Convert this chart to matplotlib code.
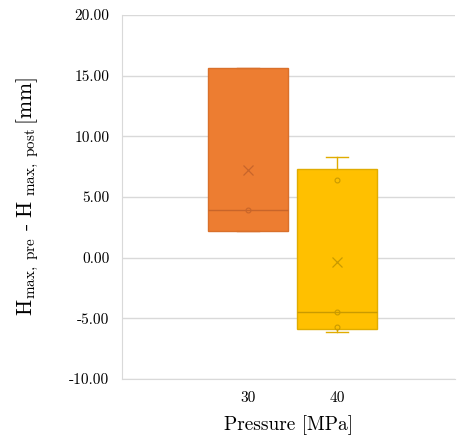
import matplotlib
matplotlib.use("Agg")
import matplotlib.pyplot as plt

plt.rcParams['font.family'] = ['cmr10', 'DejaVu Serif']
plt.rcParams['mathtext.fontset'] = 'cm'
plt.rcParams['axes.unicode_minus'] = False

categories = ['30', '40']
q1 = [2.2, -5.9]
median = [3.9, -4.5]
q3 = [15.6, 7.3]
whisker_low = [2.2, -6.1]
whisker_high = [15.6, 8.3]
means = [7.2, -0.35]
inner_points = [[3.9], [6.4, -4.5, -5.7]]
yticks = [-10, -5, 0, 5, 10, 15, 20]

fill_colors = ['#ED7D31', '#FFC000']
edge_colors = ['#D9702B', '#E0AC00']
mark_colors = ['#C8652A', '#C99A00']

fig = plt.figure(figsize=(4.61, 4.41), dpi=100)
ax = fig.add_axes([122/461, 1-379/441, (455-122)/461, (379-15)/441])

positions = [1, 2]
for i, pos in enumerate(positions):
    stats = [dict(q1=q1[i], med=median[i], q3=q3[i], whislo=whisker_low[i],
                  whishi=whisker_high[i], mean=means[i], fliers=[])]
    ax.bxp(stats, positions=[pos], widths=0.91, patch_artist=True, showmeans=True,
           boxprops=dict(facecolor=fill_colors[i], edgecolor=edge_colors[i], linewidth=1.0),
           medianprops=dict(color=mark_colors[i], linewidth=1.0),
           whiskerprops=dict(color=edge_colors[i], linewidth=1.0),
           capprops=dict(color=edge_colors[i], linewidth=1.0),
           capwidths=0.25,
           meanprops=dict(marker='x', markeredgecolor=mark_colors[i], markersize=7, markeredgewidth=0.9),
           zorder=3)
    ax.plot([pos]*len(inner_points[i]), inner_points[i], linestyle='none', marker='o',
            markersize=3.5, markerfacecolor='none', markeredgecolor=mark_colors[i],
            markeredgewidth=0.8, zorder=4)

ax.set_xlim(1 - 126/89, 2 + 118/89)
ax.set_ylim(-10, 20)
ax.set_yticks(yticks)
ax.set_yticklabels([f'{v:.2f}' for v in yticks], fontsize=11)
ax.set_xticks(positions)
ax.set_xticklabels(categories, fontsize=11)
ax.tick_params(length=0, pad=9)
ax.tick_params(axis='y', pad=9)
ax.grid(axis='y', color='#D9D9D9', linewidth=1.0, zorder=0)
ax.set_axisbelow(True)
for s in ['top', 'right']:
    ax.spines[s].set_visible(False)
ax.spines['left'].set_color('#D9D9D9')
ax.spines['bottom'].set_color('#D9D9D9')

ax.set_xlabel('Pressure [MPa]', fontsize=14, labelpad=7)
ax.set_ylabel(r'$\mathrm{H_{max,\ pre}\ \text{-}\ H_{\ max,\ post}\,[mm]}$', fontsize=15.5, labelpad=20)

fig.savefig('out.png', dpi=100)
